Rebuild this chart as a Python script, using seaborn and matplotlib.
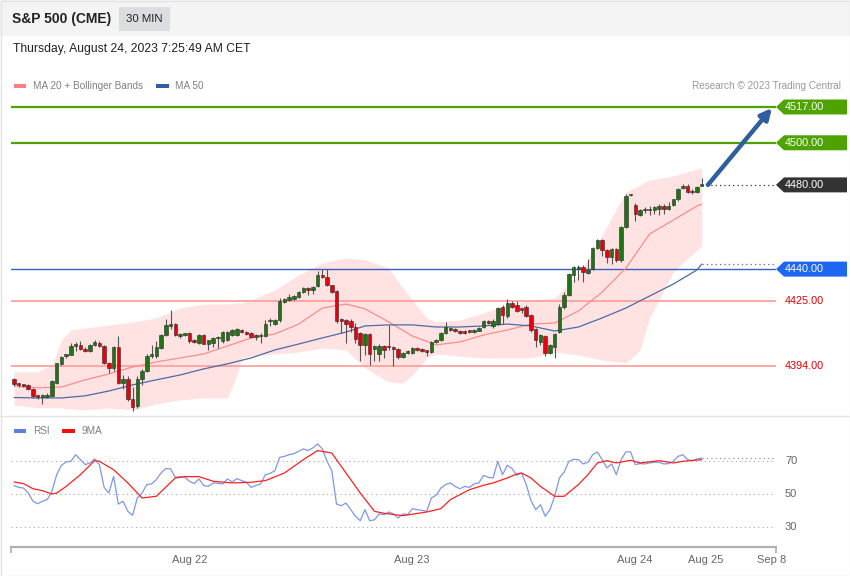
import matplotlib
matplotlib.use('Agg')
import matplotlib.pyplot as plt
import matplotlib.transforms as mtrans
from matplotlib.patches import Rectangle, Polygon
import pandas as pd
import seaborn as sns

# 30 min candles (S&P 500 futures)
opens = [4387.7, 4385.8, 4385.0, 4385.1, 4383.0, 4380.1, 4379.1, 4379.4, 4379.5, 4386.1,
         4395.0, 4398.5, 4399.2, 4403.5, 4404.1, 4402.2, 4401.0, 4403.9, 4405.1, 4403.5,
         4395.6, 4393.0, 4403.2, 4385.8, 4388.0, 4378.5, 4374.8, 4388.0, 4391.8, 4398.6,
         4398.5, 4402.5, 4408.8, 4413.0, 4414.1, 4408.0, 4408.8, 4409.6, 4406.3, 4405.0,
         4408.8, 4404.6, 4404.8, 4407.1, 4405.7, 4406.3, 4408.7, 4408.5, 4411.1, 4410.1,
         4409.5, 4407.6, 4408.2, 4408.2, 4415.3, 4413.9, 4415.6, 4424.3, 4425.3, 4426.0,
         4426.8, 4429.0, 4431.2, 4430.0, 4432.0, 4437.4, 4436.1, 4432.3, 4429.5, 4416.2,
         4415.8, 4415.2, 4412.7, 4409.5, 4404.1, 4409.2, 4402.2, 4399.7, 4403.5, 4403.3,
         4402.9, 4401.9, 4398.4, 4400.3, 4400.0, 4402.2, 4401.9, 4401.2, 4400.6, 4405.2,
         4406.3, 4409.8, 4411.1, 4411.7, 4410.8, 4410.6, 4410.9, 4410.2, 4410.8, 4412.4,
         4415.2, 4412.8, 4414.0, 4422.2, 4417.7, 4423.8, 4422.8, 4421.3, 4422.2, 4418.0,
         4411.4, 4405.5, 4408.2, 4400.3, 4403.0, 4410.1, 4422.0, 4427.6, 4437.1, 4440.2,
         4441.0, 4438.0, 4440.2, 4450.0, 4453.7, 4449.0, 4445.8, 4449.7, 4444.2, 4460.0,
         4475.0, 4470.3, 4465.6, 4468.0, 4468.2, 4468.0, 4468.4, 4470.0, 4468.5, 4470.6,
         4473.1, 4478.7, 4479.5, 4477.0, 4476.7, 4479.6]
highs = [4388.3, 4386.1, 4385.3, 4385.4, 4383.3, 4380.4, 4380.5, 4381.0, 4387.3, 4395.6,
         4398.9, 4399.9, 4404.8, 4405.3, 4406.0, 4402.8, 4404.4, 4406.3, 4406.0, 4404.0,
         4396.0, 4403.5, 4408.3, 4389.5, 4389.0, 4383.9, 4389.0, 4392.5, 4399.5, 4404.0,
         4405.7, 4409.2, 4416.4, 4420.7, 4414.5, 4409.5, 4409.5, 4410.0, 4406.6, 4409.3,
         4409.2, 4406.5, 4407.6, 4408.0, 4410.6, 4410.6, 4411.4, 4411.9, 4411.6, 4410.5,
         4410.0, 4409.0, 4409.5, 4415.6, 4416.6, 4416.2, 4426.4, 4426.3, 4428.3, 4427.9,
         4429.4, 4431.6, 4431.6, 4432.0, 4439.3, 4439.9, 4440.0, 4432.5, 4430.0, 4417.0,
         4416.5, 4416.2, 4414.5, 4410.0, 4409.5, 4409.5, 4404.1, 4404.5, 4404.0, 4413.3,
         4403.5, 4402.5, 4400.5, 4401.5, 4403.2, 4402.8, 4402.3, 4401.7, 4405.8, 4406.9,
         4410.0, 4414.9, 4412.7, 4412.2, 4411.3, 4411.0, 4411.3, 4411.7, 4412.4, 4415.8,
         4416.0, 4416.2, 4422.2, 4422.8, 4425.9, 4424.7, 4424.7, 4421.5, 4422.8, 4418.5,
         4412.0, 4409.2, 4408.8, 4404.3, 4409.5, 4423.6, 4429.0, 4438.3, 4441.6, 4441.8,
         4442.0, 4445.0, 4450.5, 4454.3, 4454.3, 4449.6, 4450.0, 4450.2, 4460.6, 4475.5,
         4475.9, 4471.3, 4468.4, 4469.7, 4470.0, 4469.9, 4471.0, 4471.0, 4472.0, 4473.5,
         4478.7, 4480.3, 4480.3, 4478.0, 4479.3, 4483.5]
lows = [4384.5, 4383.9, 4384.2, 4382.6, 4379.0, 4378.4, 4375.9, 4378.8, 4379.2, 4385.4,
        4394.5, 4398.0, 4399.0, 4400.9, 4401.7, 4400.5, 4400.5, 4403.4, 4402.8, 4394.8,
        4390.5, 4391.6, 4385.3, 4383.0, 4377.5, 4372.5, 4374.0, 4385.1, 4391.0, 4398.0,
        4398.0, 4402.0, 4408.0, 4411.7, 4408.0, 4407.5, 4408.3, 4405.0, 4404.9, 4404.5,
        4404.2, 4401.4, 4403.0, 4402.5, 4404.9, 4405.9, 4408.4, 4408.1, 4409.8, 4408.7,
        4407.2, 4406.3, 4405.0, 4407.9, 4413.2, 4413.5, 4415.0, 4423.7, 4424.7, 4425.5,
        4426.3, 4428.6, 4427.9, 4428.0, 4431.5, 4435.7, 4431.8, 4428.5, 4414.5, 4409.5,
        4405.0, 4410.0, 4405.0, 4396.2, 4399.4, 4394.6, 4396.2, 4396.2, 4398.0, 4401.6,
        4394.0, 4397.5, 4398.0, 4399.8, 4399.5, 4401.2, 4400.8, 4398.8, 4400.0, 4404.8,
        4405.9, 4409.3, 4410.7, 4410.0, 4409.4, 4409.2, 4409.6, 4409.8, 4410.4, 4412.0,
        4413.7, 4412.2, 4413.5, 4414.0, 4417.0, 4421.4, 4419.5, 4419.0, 4417.2, 4409.9,
        4403.0, 4403.8, 4398.6, 4399.7, 4398.0, 4409.5, 4421.0, 4427.0, 4434.0, 4434.7,
        4434.0, 4437.8, 4439.6, 4449.6, 4446.4, 4442.7, 4442.5, 4443.5, 4443.5, 4459.4,
        4474.5, 4463.0, 4465.1, 4466.6, 4465.5, 4466.0, 4465.5, 4466.0, 4468.0, 4470.0,
        4472.5, 4478.2, 4476.0, 4475.8, 4476.0, 4479.5]
closes = [4385.4, 4384.8, 4384.6, 4383.0, 4379.5, 4379.1, 4380.1, 4380.4, 4387.0, 4395.3,
          4398.4, 4399.5, 4403.5, 4404.1, 4402.2, 4401.3, 4403.8, 4405.4, 4403.3, 4395.3,
          4393.1, 4403.2, 4385.8, 4388.0, 4378.2, 4374.4, 4388.0, 4391.8, 4398.9, 4399.5,
          4403.2, 4408.8, 4413.3, 4413.5, 4408.5, 4409.2, 4409.0, 4405.7, 4405.3, 4408.8,
          4404.6, 4406.2, 4407.2, 4407.5, 4409.9, 4410.2, 4411.0, 4411.4, 4410.1, 4409.1,
          4407.6, 4408.6, 4408.4, 4413.9, 4415.8, 4415.8, 4425.0, 4425.6, 4426.6, 4427.0,
          4429.0, 4431.2, 4430.3, 4431.6, 4437.4, 4436.1, 4432.3, 4429.1, 4415.2, 4415.5,
          4414.0, 4412.4, 4406.7, 4404.1, 4409.2, 4399.7, 4403.5, 4403.5, 4401.7, 4402.8,
          4401.9, 4398.1, 4400.0, 4401.0, 4402.5, 4401.6, 4401.2, 4400.8, 4405.4, 4406.3,
          4409.5, 4412.3, 4412.1, 4410.5, 4409.8, 4409.7, 4410.0, 4411.2, 4411.8, 4415.2,
          4414.3, 4415.5, 4421.5, 4418.3, 4424.1, 4421.9, 4420.3, 4420.7, 4417.7, 4411.1,
          4406.3, 4408.7, 4400.3, 4403.8, 4409.0, 4422.0, 4427.6, 4437.8, 4441.0, 4441.0,
          4438.6, 4439.6, 4450.0, 4453.7, 4449.0, 4445.8, 4449.4, 4444.2, 4460.0, 4474.7,
          4475.5, 4466.3, 4467.9, 4468.5, 4468.0, 4469.4, 4469.8, 4468.7, 4469.9, 4473.1,
          4478.2, 4479.7, 4476.6, 4476.5, 4478.8, 4480.0]

# MA 20 / MA 50, read at every 5th bar
ma_idx = [0, 5, 10, 15, 20, 25, 30, 35, 40, 45, 50, 55, 60, 65, 70, 74, 79, 84, 89,
          94, 99, 104, 109, 114, 119, 124, 129, 134, 139, 144, 145]
ma20 = [4384.5, 4383.6, 4384.0, 4387.4, 4390.2, 4393.5, 4395.9, 4397.8, 4399.7, 4403.5,
        4407.3, 4409.2, 4413.9, 4421.5, 4423.4, 4421.1, 4414.9, 4408.2, 4404.0, 4405.4,
        4408.7, 4411.1, 4413.9, 4414.4, 4420.1, 4429.1, 4440.5, 4456.7, 4463.3, 4470.0, 4470.9]
ma50 = [4379.0, 4378.8, 4378.8, 4379.8, 4382.1, 4385.0, 4387.4, 4389.7, 4392.6, 4395.0,
        4397.8, 4401.6, 4404.4, 4407.3, 4410.1, 4413.0, 4413.5, 4413.5, 4412.5, 4412.5,
        4413.0, 4413.9, 4413.0, 4410.6, 4412.5, 4416.8, 4421.5, 4427.2, 4432.9, 4439.6, 4442.4]

# Bollinger bands
band_idx = [0, 5, 8, 10, 12, 15, 20, 25, 30, 35, 40, 45, 47, 48, 50, 55, 60, 65, 70, 74,
            79, 82, 84, 87, 89, 94, 99, 104, 109, 114, 119, 124, 129, 132, 134, 139, 144, 145]
band_up = [4391.2, 4391.2, 4394.5, 4406.3, 4411.1, 4412.0, 4413.5, 4414.9, 4416.8, 4421.5,
           4423.4, 4423.4, 4423.9, 4423.9, 4425.3, 4430.1, 4437.2, 4442.9, 4445.3, 4444.3,
           4440.5, 4431.0, 4425.3, 4416.8, 4414.9, 4415.8, 4419.2, 4423.0, 4425.3, 4426.3,
           4437.2, 4456.2, 4476.6, 4479.9, 4482.3, 4484.2, 4487.5, 4488.0]
band_lo = [4375.5, 4374.1, 4374.1, 4374.1, 4373.6, 4373.1, 4374.1, 4373.1, 4376.0, 4377.9,
           4378.8, 4378.8, 4389.7, 4397.8, 4398.7, 4399.7, 4400.6, 4402.5, 4401.6, 4393.1,
           4386.4, 4385.9, 4389.7, 4397.8, 4399.7, 4398.7, 4397.8, 4397.8, 4397.8, 4400.6,
           4399.2, 4396.8, 4395.4, 4401.6, 4416.8, 4438.6, 4449.1, 4451.0]

# RSI and its 9 period MA
rsi = [55.1, 54.0, 53.6, 50.6, 45.6, 44.1, 45.6, 46.6, 51.6, 61.7,
       67.4, 69.4, 69.8, 73.8, 70.8, 67.8, 68.8, 71.2, 67.8, 54.0,
       50.6, 60.7, 43.9, 45.6, 39.5, 37.1, 47.6, 50.6, 55.7, 56.1,
       58.7, 62.7, 65.4, 65.2, 60.1, 60.5, 60.3, 57.7, 56.3, 59.1,
       55.1, 54.6, 56.7, 56.5, 56.1, 59.1, 57.3, 59.3, 58.1, 57.1,
       54.0, 55.1, 56.1, 61.7, 62.5, 64.1, 72.2, 72.8, 73.8, 74.4,
       75.9, 77.3, 76.3, 77.9, 80.3, 77.3, 69.8, 64.1, 43.9, 42.9,
       44.5, 40.5, 36.5, 33.8, 40.5, 33.8, 34.4, 37.9, 37.5, 39.1,
       37.9, 35.5, 37.9, 37.5, 41.1, 40.5, 40.1,
       39.5, 47.6, 49.2, 53.6, 55.7, 56.7, 54.6, 53.2, 54.6, 54.0,
       56.1, 56.7, 61.3, 60.1, 59.7, 69.8, 61.7, 67.4, 65.4, 61.3,
       62.7, 55.7, 46.0, 40.5, 43.5, 36.5, 40.5, 48.6, 59.7, 63.3,
       69.8, 71.0, 70.8, 68.2, 69.2, 73.8, 75.5, 70.8, 65.8, 68.2,
       61.7, 70.8, 75.5, 75.5, 67.8, 68.4, 68.2, 68.8, 69.2, 69.2,
       68.2, 68.4, 69.8, 72.8, 73.8, 70.8, 70.2, 71.2, 71.8]
rsi_ma_idx = [0, 2, 4, 6, 8, 9, 11, 14, 17, 18, 21, 24, 27, 30, 34, 36, 39, 42, 46, 50,
              53, 57, 61, 64, 67, 70, 73, 76, 78, 82, 87, 90, 92, 96, 99, 101, 104, 106,
              107, 109, 111, 114, 116, 119, 121, 123, 125, 127, 130, 132, 136, 139, 141, 145]
rsi_ma = [57.3, 56.3, 53.2, 52.0, 50.0, 50.6, 54.6, 61.7, 70.2, 69.8, 64.7, 56.7, 47.6,
          48.6, 59.7, 60.5, 60.5, 57.7, 56.7, 57.1, 58.1, 62.7, 70.8, 76.3, 74.8, 62.7,
          50.6, 39.5, 38.3, 36.9, 39.1, 41.1, 46.6, 52.6, 55.3, 56.7, 59.7, 62.1, 62.7,
          59.7, 54.6, 48.6, 48.6, 55.7, 61.7, 68.8, 70.2, 68.8, 70.4, 68.8, 70.2, 68.8,
          69.8, 70.8]

# key levels and the colour of their right-hand tag (None = plain red text)
levels = [4517.0, 4500.0, 4480.0, 4440.0, 4425.0, 4394.0]
level_box = ['#4ea300', '#4ea300', '#333333', '#1f66f2', None, None]
target = 4517.0

tick_pos = [37.1, 83.9, 130.9, 145.9, 159.8]
tick_labels = ['Aug 22', 'Aug 23', 'Aug 24', 'Aug 25', 'Sep 8']
rsi_levels = [70, 50, 30]

sns.set_theme(style='white')
plt.rcParams['font.family'] = ['Liberation Sans', 'DejaVu Sans']

W, H = 850, 576
def fx(px):
    return px / W
def fy(py):
    return 1 - py / H

fig = plt.figure(figsize=(8.5, 5.76), dpi=100)
fig.patch.set_facecolor('white')

# header
fig.add_artist(Rectangle((0, fy(36)), 1, 36 / H, transform=fig.transFigure,
                         color='#f4f4f4', lw=0, zorder=0))
fig.add_artist(Rectangle((fx(119), fy(31)), 51 / W, 24 / H, transform=fig.transFigure,
                         color='#dcdde1', lw=0, zorder=1))
fig.text(fx(12), fy(19), 'S&P 500 (CME)', fontsize=10, fontweight='bold',
         color='#222222', va='center')
fig.text(fx(144.5), fy(19), '30 MIN', fontsize=8.2, color='#222222', va='center', ha='center')
fig.text(fx(13), fy(49), 'Thursday, August 24, 2023 7:25:49 AM CET', fontsize=8.7,
         color='#222222', va='center')
fig.add_artist(Rectangle((0.5 / W, 0.5 / H), 1 - 1 / W, 1 - 1 / H, transform=fig.transFigure,
                         fill=False, ec='#e4e4e4', lw=1, zorder=5))
fig.add_artist(plt.Line2D([0, 1], [fy(416), fy(416)], transform=fig.transFigure,
                          color='#e4e4e4', lw=1))

# legends
fig.add_artist(Rectangle((fx(14), fy(88)), 12 / W, 4 / H, transform=fig.transFigure,
                         color='#ff8080', lw=0))
fig.text(fx(33), fy(86), 'MA 20 + Bollinger Bands', fontsize=7.2, color='#808080', va='center')
fig.add_artist(Rectangle((fx(156), fy(88)), 13 / W, 4 / H, transform=fig.transFigure,
                         color='#2f5f9e', lw=0))
fig.text(fx(175), fy(86), 'MA 50', fontsize=7.2, color='#808080', va='center')
fig.text(fx(841), fy(86), 'Research \u00a9 2023 Trading Central', fontsize=7.2,
         color='#9a9a9a', va='center', ha='right')
fig.add_artist(Rectangle((fx(14), fy(433)), 12 / W, 4 / H, transform=fig.transFigure,
                         color='#5b7fdb', lw=0))
fig.text(fx(33), fy(431), 'RSI', fontsize=7.2, color='#808080', va='center')
fig.add_artist(Rectangle((fx(62), fy(433)), 13 / W, 4 / H, transform=fig.transFigure,
                         color='#ee1111', lw=0))
fig.text(fx(82), fy(431), '9MA', fontsize=7.2, color='#808080', va='center')

# price panel
xl, xr = (11 - 14) / 4.743, (776 - 14) / 4.743
ax = fig.add_axes([fx(11), fy(415), fx(776) - fx(11), 320 / H])
ax.set_facecolor('none')
for s in ax.spines.values():
    s.set_visible(False)
ax.set_xticks([])
ax.set_yticks([])
ax.set_xlim(xl, xr)
ax.set_ylim(4370.7, 4522.7)

ax.fill_between(band_idx, band_lo, band_up, color='#ffe2e2', lw=0, zorder=1)
sns.lineplot(x=ma_idx, y=ma20, ax=ax, color='#ff8c8c', lw=0.9, zorder=3)
sns.lineplot(x=ma_idx, y=ma50, ax=ax, color='#4d6aa6', lw=0.9, zorder=3)
ax.plot([ma_idx[-1], xr], [ma50[-1], ma50[-1]], ls=(0, (1, 2.5)), color='#4d6aa6', lw=0.9)

ax.axhline(levels[0], color='#4ea300', lw=1.6, zorder=2)
ax.axhline(levels[1], color='#4ea300', lw=1.6, zorder=2)
ax.axhline(levels[3], color='#3b5fc0', lw=1.0, zorder=2)
ax.axhline(levels[4], color='#ff9a9a', lw=1.2, zorder=2)
ax.axhline(levels[5], color='#ff9a9a', lw=1.2, zorder=2)
n = len(closes)
ax.plot([n - 1, xr], [levels[2], levels[2]], ls=(0, (1, 2.5)), color='#333333', lw=0.9)

df = pd.DataFrame({'o': opens, 'h': highs, 'l': lows, 'c': closes})
df['i'] = range(n)
up = df['c'] >= df['o']
ax.vlines(df['i'], df['l'], df['h'], color='#555555', lw=0.8, zorder=4)
body = (df['c'] - df['o']).abs().clip(lower=0.7)
ax.bar(df['i'], body, bottom=df[['o', 'c']].min(axis=1), width=0.74,
       color=['#1f7414' if u else '#e8000b' for u in up],
       edgecolor='#2a2a2a', lw=0.4, zorder=5)

ax.annotate('', xy=(159.8, target - 0.5), xytext=(n + 0.3, closes[-1]),
            arrowprops=dict(arrowstyle='-|>', color='#2e5e9e', lw=3.2, mutation_scale=16,
                            shrinkA=0, shrinkB=0),
            annotation_clip=False, zorder=6)

# level tags on the right
tr = mtrans.blended_transform_factory(fig.transFigure, ax.transData)
hh = 7.5 * 0.4748
for lvl, box in zip(levels, level_box):
    if box:
        pts = [(fx(776), lvl), (fx(784), lvl + hh), (fx(847), lvl + hh),
               (fx(847), lvl - hh), (fx(784), lvl - hh)]
        ax.add_patch(Polygon(pts, closed=True, transform=tr, color=box, lw=0, clip_on=False))
        ax.text(fx(785), lvl, f'{lvl:.2f}', transform=tr, color='white', fontsize=7.8,
                va='center', clip_on=False)
    else:
        ax.text(fx(785), lvl, f'{lvl:.2f}', transform=tr, color='#e00000', fontsize=7.8,
                va='center', clip_on=False)

# RSI panel
ax2 = fig.add_axes([fx(11), fy(547), fx(776) - fx(11), 107 / H])
ax2.set_facecolor('none')
for k, s in ax2.spines.items():
    s.set_visible(k == 'bottom')
ax2.spines['bottom'].set_color('#b0b0b0')
ax2.spines['bottom'].set_linewidth(1.6)
ax2.set_xlim(xl, xr)
ax2.set_ylim(17.9, 82.7)
ax2.set_yticks([])
tr2 = mtrans.blended_transform_factory(fig.transFigure, ax2.transData)
for v in rsi_levels:
    ax2.axhline(v, ls=(0, (1, 3)), color='#a8a8a8', lw=0.8)
    ax2.text(fx(785), v, str(v), transform=tr2, fontsize=8, color='#666666',
             va='center', clip_on=False)
sns.lineplot(x=list(range(n)), y=rsi, ax=ax2, color='#7d98e6', lw=0.9)
sns.lineplot(x=rsi_ma_idx, y=rsi_ma, ax=ax2, color='#ff2020', lw=0.9)
ax2.plot([n - 1, xr], [rsi[-1], rsi[-1]], ls=(0, (1, 2.5)), color='#7d98e6', lw=0.9)
ax2.set_xticks(tick_pos)
ax2.set_xticklabels(tick_labels, fontsize=8, color='#666666')
ax2.tick_params(axis='x', length=0, pad=6)
ax2.set_xticks([xl + 0.1, xr - 0.1], minor=True)
ax2.tick_params(axis='x', which='minor', length=4, width=1.2, color='#b0b0b0', bottom=True)
ax2.set_xlabel('')
ax2.set_ylabel('')

fig.savefig('out.png', dpi=100)
